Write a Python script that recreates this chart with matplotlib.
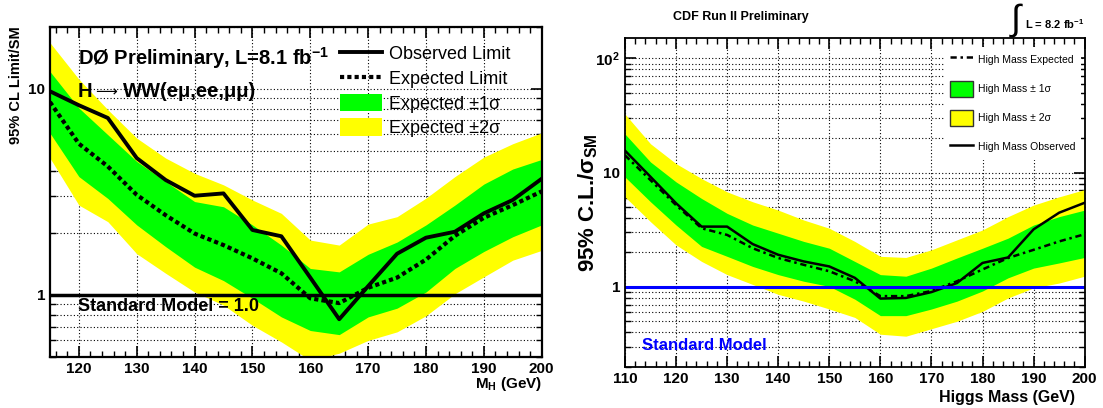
import matplotlib
matplotlib.use("Agg")
import matplotlib.pyplot as plt
from matplotlib.lines import Line2D
from matplotlib.patches import Patch
from matplotlib.ticker import LogLocator, NullFormatter, MultipleLocator

plt.rcParams["font.family"] = ["Liberation Sans", "DejaVu Sans"]
plt.rcParams["mathtext.fontset"] = "custom"
plt.rcParams["mathtext.rm"] = "Liberation Sans"
plt.rcParams["mathtext.bf"] = "Liberation Sans:bold"
plt.rcParams["mathtext.it"] = "Liberation Sans:italic"
plt.rcParams["mathtext.sf"] = "Liberation Sans"

# --- D0 (left panel) ---
d0_mass = [115, 120, 125, 130, 135, 140, 145, 150, 155, 160, 165, 170, 175, 180, 185, 190, 195, 200]
d0_obs = [9.7, 8.3, 7.2, 4.6, 3.6, 3.02, 3.1, 2.06, 1.92, 1.21, 0.76, 1.1, 1.58, 1.89, 2.02, 2.48, 2.88, 3.65]
d0_exp = [8.6, 5.4, 4.19, 3.05, 2.43, 1.98, 1.74, 1.5, 1.27, 0.96, 0.91, 1.08, 1.21, 1.48, 1.93, 2.36, 2.72, 3.17]
d0_p1s = [12.1, 8.05, 5.97, 4.43, 3.54, 2.83, 2.67, 2.18, 1.74, 1.34, 1.29, 1.57, 1.8, 2.18, 2.72, 3.44, 4.07, 4.53]
d0_m1s = [6.08, 3.74, 2.93, 2.18, 1.71, 1.36, 1.17, 0.96, 0.78, 0.67, 0.64, 0.78, 0.86, 1.03, 1.34, 1.62, 1.91, 2.18]
d0_p2s = [16.7, 11.1, 7.9, 5.75, 4.6, 3.88, 3.41, 2.88, 2.48, 1.84, 1.74, 2.2, 2.39, 2.94, 3.74, 4.65, 5.4, 6.1]
d0_m2s = [4.6, 2.72, 2.26, 1.58, 1.27, 1.03, 0.89, 0.71, 0.59, 0.48, 0.52, 0.6, 0.66, 0.79, 1.01, 1.22, 1.47, 1.64]

# --- CDF (right panel) ---
cdf_mass = [110, 115, 120, 125, 130, 135, 140, 145, 150, 155, 160, 165, 170, 175, 180, 185, 190, 195, 200]
cdf_obs = [15.6, 9.2, 5.4, 3.37, 3.37, 2.37, 1.91, 1.67, 1.51, 1.2, 0.79, 0.80, 0.9, 1.08, 1.62, 1.81, 3.19, 4.46, 5.45]
cdf_exp = [14.2, 8.6, 5.2, 3.26, 2.85, 2.18, 1.79, 1.56, 1.37, 1.12, 0.83, 0.83, 0.92, 1.12, 1.42, 1.79, 2.11, 2.5, 2.89]
cdf_p1s = [21.8, 12.4, 8.3, 5.94, 4.4, 3.48, 2.95, 2.5, 2.18, 1.67, 1.28, 1.24, 1.46, 1.79, 2.18, 2.67, 3.48, 4.12, 4.7]
cdf_m1s = [9.17, 5.56, 3.48, 2.26, 1.85, 1.51, 1.28, 1.12, 1.01, 0.78, 0.56, 0.56, 0.64, 0.75, 0.92, 1.2, 1.46, 1.62, 1.81]
cdf_p2s = [32.6, 17.9, 12.0, 8.87, 6.79, 5.56, 4.7, 3.85, 3.26, 2.5, 1.85, 1.81, 2.11, 2.58, 3.15, 4.12, 5.2, 6.14, 7.11]
cdf_m2s = [6.14, 3.72, 2.33, 1.67, 1.28, 1.05, 0.86, 0.75, 0.64, 0.54, 0.385, 0.37, 0.43, 0.5, 0.61, 0.8, 0.98, 1.08, 1.24]

sm_value = 1.0

d0_xticks = [120, 130, 140, 150, 160, 170, 180, 190, 200]
d0_yticks = [1, 10]
d0_ytick_labels = ["1", "10"]
cdf_xticks = [110, 120, 130, 140, 150, 160, 170, 180, 190, 200]
cdf_yticks = [1, 10, 100]
cdf_ytick_labels = ["1", "10", "$\\mathbf{10^{2}}$"]

GREEN = "#00ff00"
YELLOW = "#ffff00"
BLUE = "#0000ff"


def root_style(ax, lw, xticks, yticks, ylabels):
    ax.set_yscale("log")
    ax.set_axisbelow(True)
    for s in ax.spines.values():
        s.set_linewidth(lw)
    ax.set_xticks(xticks)
    ax.set_xticklabels([str(t) for t in xticks], fontweight="bold")
    ax.set_yticks(yticks)
    ax.set_yticklabels(ylabels, fontweight="bold")
    ax.yaxis.set_minor_locator(LogLocator(base=10, subs=range(2, 10)))
    ax.yaxis.set_minor_formatter(NullFormatter())
    ax.xaxis.set_minor_locator(MultipleLocator(2))
    ax.tick_params(which="both", direction="in", top=True, right=True)
    ax.tick_params(which="major", length=8, width=1.2, labelsize=11)
    ax.tick_params(which="minor", length=4, width=1.0)
    ax.grid(True, which="major", axis="x", color="black", ls=(0, (1, 2)), lw=0.8)
    ax.grid(True, which="both", axis="y", color="black", ls=(0, (1, 2)), lw=0.8)


fig = plt.figure(figsize=(11.03, 4.08), dpi=100)

# ---------------- left: D0 ----------------
ax1 = fig.add_axes([0.0453, 0.1257, 0.4458, 0.8093])
root_style(ax1, 1.6, d0_xticks, d0_yticks, d0_ytick_labels)
ax1.fill_between(d0_mass, d0_m2s, d0_p2s, color=YELLOW, lw=0)
ax1.fill_between(d0_mass, d0_m1s, d0_p1s, color=GREEN, lw=0)
ax1.plot(d0_mass, d0_exp, color="black", lw=3.0, ls=(0, (1, 0.75)))
ax1.plot(d0_mass, d0_obs, color="black", lw=2.8)
ax1.axhline(sm_value, color="black", lw=2.5)
ax1.set_xlim(115, 200)
ax1.set_ylim(0.5, 20)

ax1.set_ylabel("95% CL Limit/SM", fontsize=10.5, fontweight="bold", loc="top")
ax1.yaxis.set_label_coords(-0.055, 1.0)
ax1.set_xlabel("M$_\\mathbf{H}$ (GeV)", fontsize=11, fontweight="bold", loc="right")
ax1.xaxis.set_label_coords(1.0, -0.055)

ax1.text(0.057, 0.905, "D\u00d8 Preliminary, L=8.1 fb$^{\\mathbf{-1}}$", transform=ax1.transAxes,
         fontsize=14.5, fontweight="bold", va="center")
ax1.text(0.057, 0.802, "H", transform=ax1.transAxes,
         fontsize=14.5, fontweight="bold", va="center")
ax1.text(0.092, 0.802, "\u27f6", transform=ax1.transAxes, family="DejaVu Sans",
         fontsize=11, va="center")
ax1.text(0.149, 0.802, "WW(e\u03bc,ee,\u03bc\u03bc)", transform=ax1.transAxes,
         fontsize=14.5, fontweight="bold", va="center")
ax1.text(0.057, 0.153, "Standard Model = 1.0", transform=ax1.transAxes,
         fontsize=13, fontweight="bold", va="center")

d0_handles = [
    Line2D([], [], color="black", lw=2.8),
    Line2D([], [], color="black", lw=3.0, ls=(0, (1, 0.75))),
    Patch(facecolor=GREEN, edgecolor="none"),
    Patch(facecolor=YELLOW, edgecolor="none"),
]
d0_labels = ["Observed Limit", "Expected Limit", "Expected \u00b11\u03c3", "Expected \u00b12\u03c3"]
ax1.legend(d0_handles, d0_labels, loc="upper left", bbox_to_anchor=(0.59, 0.945),
           frameon=False, fontsize=13, handlelength=2.3, handleheight=1.1,
           handletextpad=0.4, labelspacing=0.32, borderpad=0, borderaxespad=0)

# ---------------- right: CDF ----------------
ax2 = fig.add_axes([0.5666, 0.1012, 0.4168, 0.8049])
root_style(ax2, 1.3, cdf_xticks, cdf_yticks, cdf_ytick_labels)
ax2.fill_between(cdf_mass, cdf_m2s, cdf_p2s, color=YELLOW, lw=0)
ax2.fill_between(cdf_mass, cdf_m1s, cdf_p1s, color=GREEN, lw=0)
ax2.plot(cdf_mass, cdf_exp, color="black", lw=1.8, ls=(0, (2.5, 1.5, 1, 1.5)))
ax2.plot(cdf_mass, cdf_obs, color="black", lw=1.8)
ax2.axhline(sm_value, color=BLUE, lw=2.2)
ax2.set_xlim(110, 200)
ax2.set_ylim(0.2, 150)

ax2.set_ylabel("95% C.L./$\\mathbf{\\sigma_{SM}}$", fontsize=16, fontweight="bold")
ax2.yaxis.set_label_coords(-0.055, 0.5)
ax2.set_xlabel("Higgs Mass (GeV)", fontsize=11.5, fontweight="bold", loc="right")
ax2.xaxis.set_label_coords(0.979, -0.07)

ax2.text(0.036, 0.066, "Standard Model", transform=ax2.transAxes, color=BLUE,
         fontsize=12, fontweight="bold", va="center")

cdf_handles = [
    Line2D([], [], color="black", lw=1.8, ls=(0, (2.5, 1.5, 1, 1.5))),
    Patch(facecolor=GREEN, edgecolor="#333333", lw=1),
    Patch(facecolor=YELLOW, edgecolor="#333333", lw=1),
    Line2D([], [], color="black", lw=1.8),
]
cdf_labels = ["High Mass Expected", "High Mass \u00b1 1\u03c3", "High Mass \u00b1 2\u03c3", "High Mass Observed"]
leg2 = ax2.legend(cdf_handles, cdf_labels, loc="upper left", bbox_to_anchor=(0.696, 0.975),
                  frameon=True, fontsize=7.5, handlelength=2.2, handleheight=2.0,
                  handletextpad=0.5, labelspacing=1.25, borderpad=0.5, borderaxespad=0,
                  fancybox=False)
leg2.get_frame().set_facecolor("white")
leg2.get_frame().set_edgecolor("none")
leg2.get_frame().set_alpha(1.0)

fig.text(0.672, 0.958, "CDF Run II Preliminary", fontsize=9, fontweight="bold",
         ha="center", va="center")
fig.text(0.921, 0.952, "\u222b", fontsize=26, ha="center", va="center")
fig.text(0.929, 0.94, "L = 8.2 fb$^{\\mathbf{-1}}$", fontsize=8, fontweight="bold",
         ha="left", va="center")

fig.savefig("out.png", dpi=100)
